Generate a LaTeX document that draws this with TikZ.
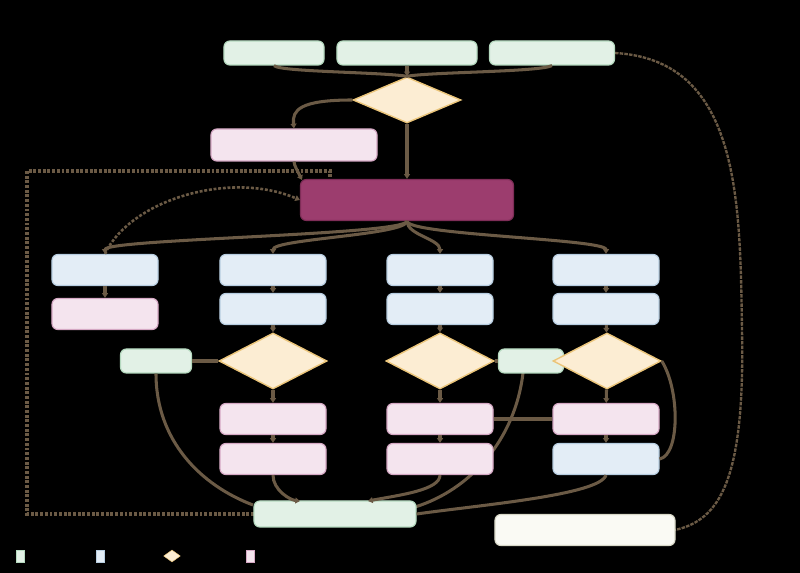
\documentclass[tikz,border=0pt]{standalone}
\usetikzlibrary{shapes.geometric,arrows.meta,calc}
\definecolor{edge}{HTML}{6B5A45}
\definecolor{gF}{HTML}{E2F1E6}\definecolor{gD}{HTML}{B5D9BF}
\definecolor{bF}{HTML}{E3EDF6}\definecolor{bD}{HTML}{B7CDE0}
\definecolor{pF}{HTML}{F4E4EE}\definecolor{pD}{HTML}{D5A8C4}
\definecolor{yF}{HTML}{FCEDD3}\definecolor{yD}{HTML}{EBC57A}
\definecolor{mF}{HTML}{9C3D6E}\definecolor{mD}{HTML}{7E2D57}
\definecolor{wF}{HTML}{FAFAF4}\definecolor{wD}{HTML}{D8D8C8}
\begin{document}
\begin{tikzpicture}[x=0.03cm,y=-0.03cm,
 box/.style={rounded corners=5pt,draw,line width=1pt,minimum height=#1*0.03cm,inner sep=0pt},
 g/.style={box=24,fill=gF,draw=gD}, b/.style={box=31,fill=bF,draw=bD,minimum width=3.18cm},
 p/.style={box=31,fill=pF,draw=pD,minimum width=3.18cm},
 dia/.style={diamond,aspect=1.95,fill=yF,draw=yD,line width=1.2pt,inner sep=0pt,minimum width=3.24cm,minimum height=1.68cm},
 e/.style={draw=edge,line width=2.6pt,-{Triangle[length=4pt,width=5pt]}},
 en/.style={draw=edge,line width=2.6pt},
 dsh/.style={draw=edge,line width=3.4pt,dash pattern=on 2.5pt off 1.5pt},
 thin/.style={draw=edge,line width=2pt}]
\useasboundingbox[fill=black] (0,0) rectangle (800,573);
\draw[thin,dash pattern=on 3pt off 1pt] (615,53) .. controls (740,60) and (740,200) .. (742,330) .. controls (745,480) and (720,520) .. (675,530);
\draw[dsh] (254,514) -- (27,514) -- (27,171) -- (330,171) -- (330,180);
\node[g,minimum width=3cm] (g1) at (274,53) {};
\node[g,minimum width=4.2cm] (g2) at (407,53) {};
\node[g,minimum width=3.75cm] (g3) at (552,53) {};
\node[dia,minimum width=3.24cm,minimum height=1.38cm] (d0) at (407,100) {};
\node[box=32,fill=pF,draw=pD,minimum width=4.98cm] (p0) at (294,145) {};
\node[box=41,fill=mF,draw=mD,minimum width=6.39cm] (m) at (407,200) {};
\node[b] (b1) at (105,270) {};\node[b] (b2) at (273,270) {};
\node[b] (b3) at (440,270) {};\node[b] (b4) at (606,270) {};
\node[p] (p1) at (105,314) {};\node[b] (b2b) at (273,309) {};
\node[b] (b3b) at (440,309) {};\node[b] (b4b) at (606,309) {};
\node[g,minimum width=2.13cm] (g4) at (156,361) {};
\node[dia] (d1) at (273,361) {};\node[dia] (d2) at (440,361) {};
\draw[en] (523,373) .. controls (515,440) and (470,490) .. (415,507);
\node[g,minimum width=1.95cm] (g5) at (531,361) {};
\node[dia] (d3) at (607,361) {};
\node[p] (p2) at (273,419) {};\node[p] (p3) at (440,419) {};\node[p] (p4) at (606,419) {};
\node[p] (p5) at (273,459) {};\node[p] (p6) at (440,459) {};\node[b] (b5) at (606,459) {};
\node[box=26,fill=gF,draw=gD,minimum width=4.86cm] (g6) at (335,514) {};
\node[box=31,fill=wF,draw=wD,minimum width=5.4cm] (w1) at (585,530) {};
\node[fill=gF,draw=gD,minimum width=0.24cm,minimum height=0.36cm,inner sep=0pt] (l1) at (20,556) {};
\node[fill=bF,draw=bD,minimum width=0.24cm,minimum height=0.36cm,inner sep=0pt] (l2) at (100,556) {};
\node[diamond,fill=yF,draw=yD,minimum width=0.5cm,minimum height=0.36cm,inner sep=0pt,aspect=1.5] (l3) at (172,556) {};
\node[fill=pF,draw=pD,minimum width=0.24cm,minimum height=0.36cm,inner sep=0pt] (l4) at (250,556) {};
\draw[en] (g1.south) .. controls (280,72) and (380,72) .. (d0.north);
\draw[en] (g3.south) .. controls (540,72) and (430,72) .. (d0.north);
\draw[e] (g2.south) -- (d0.north);
\draw[e] (d0.west) .. controls (300,100) and (292,110) .. (p0.north);
\draw[e] (d0.south) -- (m.north);
\draw[e] (p0.south) .. controls (294,165) and (298,172) .. (302,180);
\draw[draw=edge,line width=2.2pt,dash pattern=on 2.5pt off 1.5pt,-{Triangle[length=4pt,width=5pt]}] (b1.north) .. controls (130,200) and (230,170) .. (m.west);
\foreach \t in {b1,b2,b3,b4}{\draw[e] (m.south) .. controls (407,235) and ($(\t.north)+(0,-15)$) .. (\t.north);}
\draw[e] (b1) -- (p1);\draw[e] (b2) -- (b2b);\draw[e] (b3) -- (b3b);\draw[e] (b4) -- (b4b);
\draw[e] (b2b) -- (d1);\draw[e] (b3b) -- (d2);\draw[e] (b4b) -- (d3);
\draw[en] (g4) -- (d1);\draw[en] (d2) -- (g5);
\draw[e] (d1) -- (p2);\draw[e] (d2) -- (p3);\draw[e] (d3) -- (p4);
\draw[en] (p3) -- (p4);
\draw[e] (p2) -- (p5);\draw[e] (p3) -- (p6);\draw[e] (p4) -- (b5);
\draw[en] (d3.east) .. controls (680,390) and (680,455) .. (b5.east);
\draw[en] (g4.south) .. controls (156,440) and (200,485) .. (253,505);
\draw[e] (p5.south) .. controls (273,490) and (290,500) .. (300,501);
\draw[e] (p6.south) .. controls (440,490) and (400,495) .. (368,501);
\draw[en] (b5.south) .. controls (600,495) and (480,505) .. (g6.east);
\end{tikzpicture}
\end{document}
